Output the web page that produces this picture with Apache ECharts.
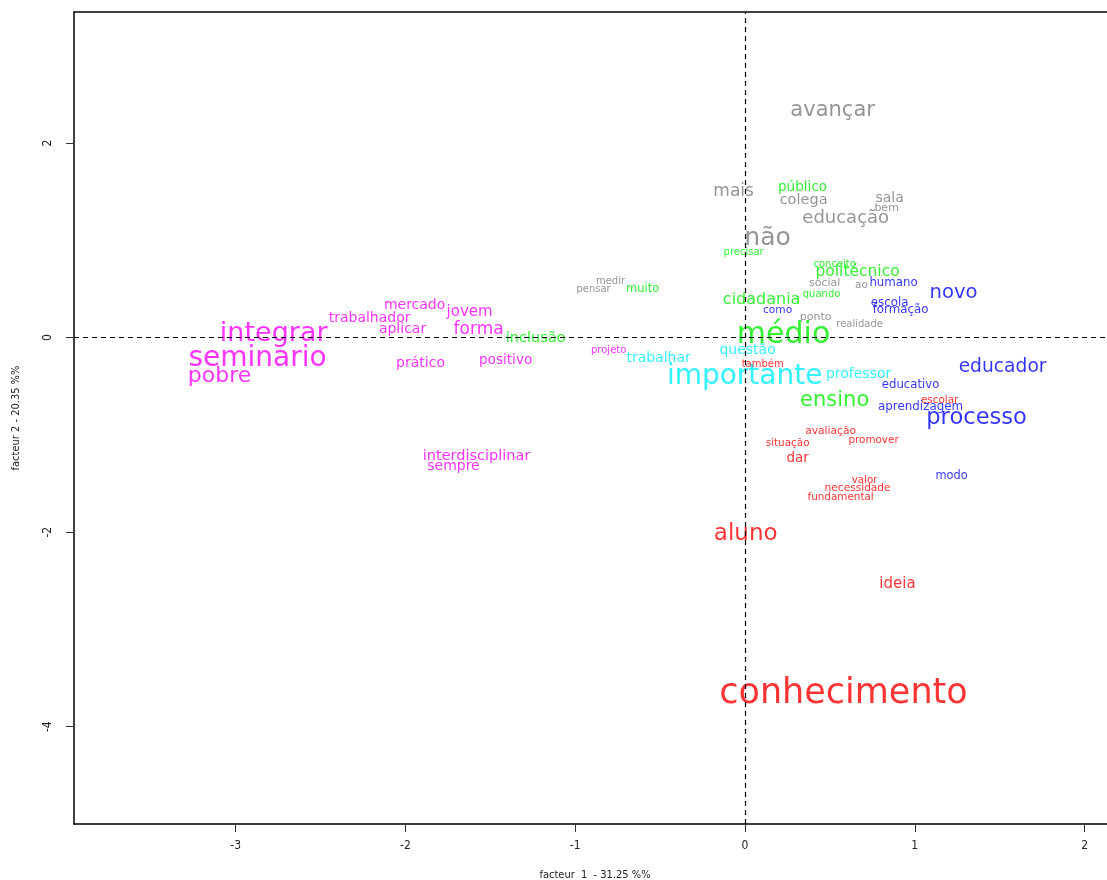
<!DOCTYPE html>
<html>
<head>
<meta charset="utf-8">
<script src="https://cdn.jsdelivr.net/npm/echarts@6/dist/echarts.min.js"></script>
<style>
    html, body { margin: 0; padding: 0; background: #fff; overflow: hidden; }
    #chart { width: 1107px; height: 880px; }
</style>
</head>
<body>
<div id="chart"></div>
<script>
// axis ticks
const xTicks = [-3, -2, -1, 0, 1, 2]
const yTicks = [-4, -2, 0, 2]

// words by class: coordinates on factor 1 / factor 2, and weight (drives text size)
const grayWords = ['avançar', 'mais', 'colega', 'sala', 'bem', 'educação', 'não', 'medir', 'pensar', 'social', 'ao', 'ponto', 'realidade']
const grayX = [0.516, -0.067, 0.345, 0.852, 0.834, 0.593, 0.133, -0.792, -0.892, 0.469, 0.686, 0.416, 0.675]
const grayY = [2.352, 1.519, 1.426, 1.447, 1.344, 1.242, 1.036, 0.594, 0.512, 0.572, 0.553, 0.224, 0.152]
const grayW = [21, 17, 14.5, 14, 11, 18, 25, 10, 10, 11, 10.5, 11, 10]

const greenWords = ['público', 'precisar', 'conceito', 'politécnico', 'quando', 'muito', 'cidadania', 'médio', 'inclusão', 'ensino']
const greenX = [0.339, -0.008, 0.528, 0.663, 0.451, -0.603, 0.098, 0.227, -1.233, 0.528]
const greenY = [1.560, 0.892, 0.769, 0.687, 0.461, 0.512, 0.400, 0.039, 0.008, -0.630]
const greenW = [13.6, 10, 10, 15.5, 10, 11.5, 16, 30, 14.5, 21]

const magentaWords = ['mercado', 'jovem', 'trabalhador', 'aplicar', 'forma', 'integrar', 'seminario', 'pobre', 'prático', 'positivo', 'projeto', 'interdisciplinar', 'sempre']
const magentaX = [-1.946, -1.622, -2.211, -2.017, -1.569, -2.776, -2.871, -3.095, -1.911, -1.410, -0.803, -1.581, -1.717]
const magentaY = [0.348, 0.275, 0.214, 0.101, 0.101, 0.049, -0.198, -0.383, -0.249, -0.218, -0.115, -1.205, -1.308]
const magentaW = [14, 15, 14, 14, 17, 27, 28, 22, 14, 13.6, 10, 14.5, 14]

const cyanWords = ['trabalhar', 'questão', 'importante', 'professor']
const cyanX = [-0.509, 0.015, -0.002, 0.669]
const cyanY = [-0.198, -0.115, -0.383, -0.362]
const cyanW = [14, 14, 28, 14]

const redWords = ['também', 'escolar', 'avaliação', 'promover', 'situação', 'dar', 'valor', 'necessidade', 'fundamental', 'aluno', 'ideia', 'conhecimento']
const redX = [0.104, 1.146, 0.504, 0.757, 0.251, 0.310, 0.704, 0.663, 0.563, 0.004, 0.898, 0.580]
const redY = [-0.259, -0.630, -0.948, -1.041, -1.072, -1.226, -1.452, -1.535, -1.627, -2.006, -2.520, -3.651]
const redW = [10, 10.4, 10.7, 10.4, 10.4, 13.5, 10.2, 10.6, 10.4, 23, 15, 35]

const blueWords = ['humano', 'novo', 'escola', 'como', 'formação', 'educador', 'educativo', 'aprendizagem', 'processo', 'modo']
const blueX = [0.875, 1.228, 0.852, 0.192, 0.916, 1.517, 0.975, 1.034, 1.364, 1.217]
const blueY = [0.573, 0.471, 0.368, 0.296, 0.296, -0.290, -0.475, -0.701, -0.814, -1.410]
const blueW = [11.8, 19.6, 11.8, 10.7, 11.8, 18.7, 11.7, 11.9, 22.6, 11.4]

const classes = [
    { words: grayWords, x: grayX, y: grayY, w: grayW, color: '#7a7a7a' },
    { words: greenWords, x: greenX, y: greenY, w: greenW, color: '#00ee00' },
    { words: magentaWords, x: magentaX, y: magentaY, w: magentaW, color: '#ff00ff' },
    { words: cyanWords, x: cyanX, y: cyanY, w: cyanW, color: '#00f0ff' },
    { words: redWords, x: redX, y: redY, w: redW, color: '#ff0000' },
    { words: blueWords, x: blueX, y: blueY, w: blueW, color: '#0000ff' }
]

const tickFont = "'Liberation Sans Narrow', 'DejaVu Sans Condensed', 'Liberation Sans', sans-serif"
const xMin = -3.952, xMax = 2.185

const series = classes.map(c => ({
    type: 'scatter',
    symbolSize: 1,
    itemStyle: { color: 'rgba(0,0,0,0)' },
    silent: true,
    label: {
        show: true,
        position: 'inside',
        offset: [0, 1.5],
        formatter: '{b}',
        color: c.color,
        fontFamily: 'DejaVu Sans'
    },
    data: c.words.map((word, i) => ({
        name: word,
        value: [c.x[i], c.y[i]],
        label: { fontSize: c.w[i] }
    }))
}))

// dashed origin lines
series.push({
    type: 'scatter',
    data: [],
    markLine: {
        silent: true,
        symbol: 'none',
        label: { show: false },
        lineStyle: { color: '#000', type: [5, 4], width: 1.2 },
        data: [{ xAxis: 0 }, { yAxis: 0 }]
    }
})

// plot box: bottom, top and left lines (the right side is cut off in the original)
const boxLine = { show: true, onZero: false, lineStyle: { color: '#000', width: 1.5 } }

let option = {
    backgroundColor: '#fff',
    animation: false,
    grid: {
        left: 74,
        top: 12,
        width: 1042,
        height: 812,
        outerBoundsMode: 'none',
        containLabel: false
    },
    xAxis: [{
        type: 'value',
        position: 'bottom',
        min: xMin,
        max: xMax,
        name: 'facteur  1  - 31.25 %%',
        nameLocation: 'middle',
        nameGap: 46,
        nameTextStyle: { fontSize: 11, color: '#222', fontFamily: tickFont },
        axisLine: boxLine,
        splitLine: { show: false },
        axisTick: { show: true, length: 8, customValues: xTicks, lineStyle: { color: '#333', width: 1 } },
        axisLabel: { customValues: xTicks, fontSize: 12, color: '#222', margin: 16, fontFamily: tickFont }
    }, {
        type: 'value',
        position: 'top',
        min: xMin,
        max: xMax,
        axisLine: boxLine,
        splitLine: { show: false },
        axisTick: { show: false },
        axisLabel: { show: false }
    }],
    yAxis: {
        type: 'value',
        min: -5.0,
        max: 3.347,
        name: 'facteur 2 - 20.35 %%',
        nameLocation: 'middle',
        nameGap: 52,
        nameTextStyle: { fontSize: 11, color: '#222', fontFamily: tickFont },
        axisLine: boxLine,
        splitLine: { show: false },
        axisTick: { show: true, length: 8, customValues: yTicks, lineStyle: { color: '#333', width: 1 } },
        axisLabel: { customValues: yTicks, rotate: 90, fontSize: 12, color: '#222', margin: 20, fontFamily: tickFont }
    },
    series: series
}

let chart = echarts.init(document.getElementById('chart'))
chart.setOption(option)
</script>
</body>
</html>
